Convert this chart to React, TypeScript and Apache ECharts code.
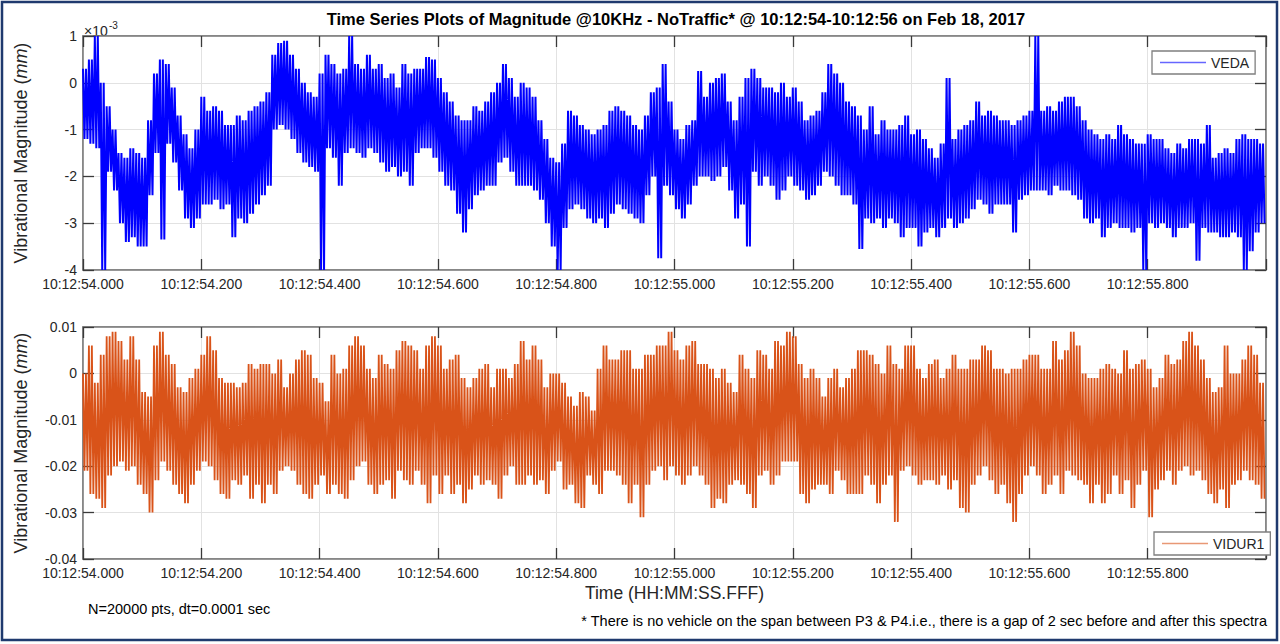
import React, { useEffect, useRef } from 'react';
import * as echarts from 'echarts';

// ---------- data ----------
const TITLE = 'Time Series Plots of Magnitude @10KHz - NoTraffic* @ 10:12:54-10:12:56 on Feb 18, 2017';
const SLOT = 0.01; // seconds covered by one envelope reading (hi / lo extent of the trace)

const xTickLabels = [
  '10:12:54.000', '10:12:54.200', '10:12:54.400', '10:12:54.600', '10:12:54.800',
  '10:12:55.000', '10:12:55.200', '10:12:55.400', '10:12:55.600', '10:12:55.800',
];
const topYTickLabels = ['-4', '-3', '-2', '-1', '0', '1'];
const bottomYTickLabels = ['-0.04', '-0.03', '-0.02', '-0.01', '0', '0.01'];

// VEDA, in units of 1e-3 mm: upper and lower extent of the trace per 0.01 s
const vedaHigh = [
  0.3, 0.5, 1.0, 0.0, -0.5, -1.0, -1.5, -1.6, -1.4, -1.5,
  -1.6, -0.8, 0.2, 0.5, 0.4, -0.1, -0.7, -1.1, -1.4, -1.0,
  -0.3, -0.6, -0.5, -0.6, -0.9, -0.9, -0.7, -0.8, -0.6, -0.5,
  -0.4, -0.2, 0.6, 0.85, 0.9, 0.6, 0.3, 0.0, -0.2, -0.3,
  0.2, 0.6, 0.4, 0.2, 0.3, 1.0, 0.4, 0.3, 0.6, 0.3,
  0.4, 0.1, 0.2, -0.1, 0.4, 0.2, 0.3, 0.3, 0.55, 0.5,
  0.1, -0.2, -0.4, -0.7, -0.8, -0.8, -0.5, -0.6, -0.4, -0.2,
  0.0, 0.4, 0.1, -0.3, 0.0, -0.1, -0.3, -0.8, -1.2, -1.6,
  -1.7, -1.3, -0.6, -0.7, -0.9, -1.0, -1.1, -1.0, -0.9, -0.6,
  -0.5, -0.6, -0.7, -0.9, -1.0, -0.7, -0.2, -0.1, 0.4, -0.4,
  -1.0, -1.2, -0.9, -0.8, 0.25, -0.3, 0.0, 0.1, 0.2, -0.4,
  -0.8, -0.3, 0.1, 0.3, 0.1, -0.1, -0.1, -0.2, 0.0, -0.3,
  -0.1, -0.4, -0.8, -0.7, -0.6, -0.2, 0.4, 0.2, 0.0, -0.4,
  -0.5, -0.7, -1.0, -0.5, -1.1, -0.8, -1.0, -1.0, -0.9, -0.7,
  -1.1, -1.0, -1.2, -1.4, -1.6, -1.3, 0.1, -1.2, -1.0, -0.9,
  -0.8, -0.4, -0.7, -0.6, -0.7, -0.8, -0.8, -0.9, -0.8, -0.7,
  -0.6, 1.0, -0.6, -0.5, -0.6, -0.4, -0.3, -0.3, -0.5, -0.8,
  -1.0, -1.1, -1.2, -1.1, -1.2, -0.9, -1.1, -1.2, -1.3, -1.3,
  -1.1, -1.2, -1.2, -1.4, -1.5, -1.3, -1.4, -1.2, -1.2, -1.3,
  -0.9, -1.6, -1.5, -1.4, -1.5, -1.2, -1.1, -1.2, -1.2, -1.3,
];
const vedaLow = [
  -1.2, -1.3, -1.4, -4.0, -1.9, -2.3, -3.0, -3.4, -3.3, -3.5,
  -3.5, -2.4, -1.5, -3.35, -1.3, -1.7, -2.3, -2.9, -3.1, -2.9,
  -2.6, -2.6, -2.5, -2.7, -2.6, -3.3, -2.9, -3.0, -2.8, -2.6,
  -2.4, -2.2, -1.0, -0.9, -1.0, -1.2, -1.5, -1.7, -1.8, -1.9,
  -4.0, -1.4, -1.6, -2.2, -1.5, -1.4, -1.5, -1.6, -1.4, -1.5,
  -1.7, -1.9, -1.8, -2.0, -1.9, -2.2, -1.5, -1.4, -1.4, -1.6,
  -1.9, -2.2, -2.3, -2.8, -3.2, -2.7, -2.4, -2.3, -2.2, -2.2,
  -1.7, -1.6, -1.9, -2.2, -2.2, -2.2, -2.3, -2.5, -3.0, -3.5,
  -4.0, -3.1, -2.7, -2.6, -2.7, -2.9, -3.0, -2.9, -3.1, -2.8,
  -2.6, -2.7, -2.8, -2.9, -3.0, -2.4, -2.0, -3.75, -2.2, -2.4,
  -2.7, -2.9, -2.6, -2.2, -2.0, -2.0, -2.1, -2.0, -1.8, -2.3,
  -2.9, -2.6, -3.5, -1.9, -2.2, -2.0, -2.2, -2.5, -2.3, -2.0,
  -2.2, -2.3, -2.5, -2.4, -2.2, -1.9, -2.0, -2.2, -2.4, -2.4,
  -2.6, -3.55, -2.9, -3.0, -2.9, -3.1, -2.9, -3.0, -3.3, -3.1,
  -3.1, -3.5, -3.2, -3.1, -3.3, -3.1, -2.9, -3.1, -3.0, -2.9,
  -2.7, -2.5, -2.6, -2.8, -2.6, -2.6, -2.6, -3.2, -2.5, -2.4,
  -2.3, -2.3, -2.3, -2.4, -2.2, -2.3, -2.3, -2.4, -2.5, -2.9,
  -3.0, -2.9, -3.3, -3.1, -3.0, -3.1, -3.1, -3.2, -3.1, -4.0,
  -3.0, -3.1, -3.0, -3.1, -3.3, -3.1, -3.1, -3.0, -3.8, -3.1,
  -3.2, -3.2, -3.3, -3.3, -3.2, -3.3, -4.0, -3.6, -3.2, -3.0,
];

// VIDUR1, in mm: upper and lower extent of the trace per 0.01 s
const vidurHigh = [
  0.000, 0.006, -0.002, 0.004, 0.008, 0.009, 0.007, 0.003, 0.008, 0.003,
  -0.004, -0.005, 0.006, 0.009, 0.004, 0.002, -0.003, -0.004, -0.001, 0.001,
  0.004, 0.008, 0.005, -0.001, -0.002, -0.002, -0.003, -0.002, 0.002, 0.001,
  0.002, 0.002, 0.000, 0.003, -0.003, 0.000, 0.003, 0.005, 0.004, -0.001,
  -0.002, -0.006, 0.004, 0.000, 0.001, 0.006, 0.008, 0.006, 0.001, -0.001,
  0.004, 0.002, 0.001, 0.005, 0.007, 0.006, 0.005, 0.001, 0.006, 0.008,
  0.006, 0.001, 0.003, 0.004, -0.001, -0.003, -0.001, 0.001, 0.002, -0.003,
  0.001, 0.001, -0.001, 0.002, 0.007, 0.003, 0.006, 0.003, -0.003, 0.000,
  0.000, -0.002, -0.005, -0.007, -0.004, -0.005, -0.008, 0.001, 0.006, 0.003,
  0.003, 0.005, 0.005, 0.001, 0.001, 0.004, 0.004, 0.006, 0.006, 0.009,
  0.005, 0.003, 0.006, 0.007, 0.002, 0.002, 0.001, -0.001, 0.001, -0.002,
  -0.004, 0.004, 0.001, -0.001, 0.005, 0.004, 0.001, 0.007, 0.006, 0.009,
  0.008, 0.002, -0.001, 0.001, -0.001, -0.005, -0.001, 0.001, -0.003, -0.001,
  0.001, 0.005, 0.005, 0.004, 0.002, 0.000, 0.006, 0.002, 0.001, 0.006,
  0.006, 0.001, -0.001, 0.002, 0.003, -0.001, 0.001, 0.004, 0.001, 0.001,
  0.003, 0.003, 0.006, 0.005, 0.001, 0.001, 0.000, 0.001, 0.001, 0.003,
  0.004, 0.004, 0.001, 0.001, 0.007, 0.003, 0.005, 0.009, 0.006, 0.000,
  -0.001, -0.001, 0.001, 0.002, 0.001, 0.000, 0.005, 0.001, 0.002, 0.003,
  0.001, -0.003, -0.001, 0.004, 0.002, 0.003, 0.007, 0.009, 0.006, 0.003,
  -0.001, -0.004, -0.003, 0.006, 0.000, 0.000, 0.003, 0.006, 0.004, -0.002,
];
const vidurLow = [
  -0.021, -0.026, -0.027, -0.029, -0.022, -0.020, -0.019, -0.021, -0.020, -0.024,
  -0.026, -0.030, -0.023, -0.019, -0.021, -0.024, -0.026, -0.028, -0.024, -0.021,
  -0.019, -0.020, -0.023, -0.026, -0.027, -0.023, -0.024, -0.022, -0.027, -0.024,
  -0.028, -0.024, -0.026, -0.021, -0.020, -0.021, -0.024, -0.026, -0.027, -0.024,
  -0.022, -0.026, -0.024, -0.026, -0.027, -0.023, -0.020, -0.019, -0.024, -0.026,
  -0.024, -0.023, -0.027, -0.021, -0.023, -0.024, -0.021, -0.024, -0.028, -0.022,
  -0.026, -0.022, -0.026, -0.024, -0.028, -0.025, -0.022, -0.024, -0.023, -0.024,
  -0.027, -0.022, -0.020, -0.024, -0.024, -0.022, -0.024, -0.023, -0.026, -0.021,
  -0.019, -0.025, -0.024, -0.028, -0.029, -0.022, -0.024, -0.026, -0.021, -0.021,
  -0.022, -0.024, -0.028, -0.024, -0.031, -0.024, -0.021, -0.020, -0.023, -0.020,
  -0.022, -0.024, -0.022, -0.020, -0.022, -0.024, -0.029, -0.027, -0.028, -0.024,
  -0.023, -0.024, -0.026, -0.029, -0.022, -0.021, -0.024, -0.022, -0.019, -0.019,
  -0.019, -0.026, -0.028, -0.025, -0.024, -0.024, -0.026, -0.021, -0.023, -0.026,
  -0.026, -0.026, -0.022, -0.024, -0.028, -0.024, -0.022, -0.032, -0.021, -0.020,
  -0.022, -0.024, -0.023, -0.023, -0.024, -0.022, -0.025, -0.023, -0.029, -0.030,
  -0.024, -0.022, -0.020, -0.023, -0.026, -0.024, -0.028, -0.032, -0.026, -0.022,
  -0.020, -0.022, -0.026, -0.024, -0.022, -0.026, -0.021, -0.022, -0.023, -0.024,
  -0.028, -0.024, -0.028, -0.026, -0.022, -0.026, -0.023, -0.029, -0.024, -0.021,
  -0.031, -0.025, -0.023, -0.021, -0.024, -0.021, -0.020, -0.022, -0.021, -0.023,
  -0.026, -0.028, -0.025, -0.029, -0.024, -0.023, -0.021, -0.023, -0.024, -0.027,
];

// ---------- helpers ----------
// Each 0.01 s slot of the dense 10 kHz trace is drawn as two full swings between
// its read upper and lower extents (the way a dense signal fills its envelope).
function traceFrom(high: number[], low: number[]) {
  const pts: [number, number][] = [];
  const q = SLOT / 4;
  for (let i = 0; i < high.length; i++) {
    const t = i * SLOT;
    pts.push([t, high[i]]);
    pts.push([t + q, low[i]]);
    pts.push([t + 2 * q, high[i]]);
    pts.push([t + 3 * q, low[i]]);
  }
  return pts;
}

const FONT = '"Liberation Sans", Arial, Helvetica, sans-serif';
const TXT = '#262626';
const BOX = '#7f7f7f';
const TICK = '#3a3a3a';
const GRID = '#e2e2e2';

function xAxes(gridIndex: number, withName: boolean) {
  const base = {
    gridIndex, type: 'value' as const, min: 0, max: 2, interval: 0.2,
    axisLine: { show: true, onZero: false, lineStyle: { color: BOX, width: 1.5 } },
    axisTick: { show: true, inside: true, length: 11, lineStyle: { color: TICK, width: 1.3 } },
  };
  return [
    {
      ...base,
      position: 'bottom',
      axisLabel: {
        show: true, fontSize: 14, color: TXT, margin: 7, fontFamily: FONT,
        formatter: (v: number) => xTickLabels[Math.round(v / 0.2)] ?? '',
      },
      splitLine: { show: true, lineStyle: { color: GRID, width: 1 } },
      name: withName ? 'Time (HH:MM:SS.FFF)' : '',
      nameLocation: 'middle',
      nameGap: 25,
      nameTextStyle: { fontSize: 17.5, color: TXT, fontFamily: FONT },
    },
    { ...base, position: 'top', axisLabel: { show: false }, splitLine: { show: false } },
  ];
}

function yAxes(gridIndex: number, min: number, max: number, interval: number, labels: string[]) {
  const base = {
    gridIndex, type: 'value' as const, min, max, interval,
    axisLine: { show: true, onZero: false, lineStyle: { color: BOX, width: 1.5 } },
    axisTick: { show: true, inside: true, length: 11, lineStyle: { color: TICK, width: 1.3 } },
  };
  return [
    {
      ...base,
      position: 'left',
      axisLabel: {
        show: true, fontSize: 14, color: TXT, margin: 6, fontFamily: FONT,
        formatter: (v: number) => labels[Math.round((v - min) / interval)] ?? '',
      },
      splitLine: { show: true, lineStyle: { color: GRID, width: 1 } },
      name: 'Vibrational Magnitude ({i|mm})',
      nameLocation: 'middle',
      nameGap: 53,
      nameTextStyle: {
        fontSize: 18, color: TXT, fontFamily: FONT,
        rich: { i: { fontSize: 18, color: TXT, fontStyle: 'italic', fontFamily: FONT } },
      },
    },
    { ...base, position: 'right', axisLabel: { show: false }, splitLine: { show: false } },
  ];
}

function legendFor(name: string, left: number, top: number) {
  return {
    data: [{ name, icon: 'rect' }], left, top, orient: 'vertical',
    backgroundColor: '#fff', borderColor: BOX, borderWidth: 1.3,
    padding: [4, 6, 4, 8], itemWidth: 46, itemHeight: 1.6, itemGap: 0,
    itemStyle: { opacity: 0.6 },
    textStyle: { fontSize: 14, color: TXT, fontFamily: FONT, lineHeight: 15 },
    selectedMode: false,
  };
}

export default function App() {
  const ref = useRef<HTMLDivElement>(null);

  useEffect(() => {
    if (!ref.current) return;
    const chart = echarts.init(ref.current, null, { renderer: 'svg' });

    const option: any = {
      animation: false,
      backgroundColor: '#ffffff',
      textStyle: { fontFamily: FONT },
      grid: [
        { left: 83, top: 36, width: 1183, height: 234, show: true, borderColor: BOX, borderWidth: 1.5, backgroundColor: '#fff' },
        { left: 83, top: 327, width: 1183, height: 232, show: true, borderColor: BOX, borderWidth: 1.5, backgroundColor: '#fff' },
      ],
      xAxis: [...xAxes(0, false), ...xAxes(1, true)],
      yAxis: [
        ...yAxes(0, -4, 1, 1, topYTickLabels),
        ...yAxes(1, -0.04, 0.01, 0.01, bottomYTickLabels),
      ],
      legend: [legendFor('VEDA', 1152, 51), legendFor('VIDUR1', 1154, 532)],
      series: [
        {
          name: 'VEDA', type: 'line', xAxisIndex: 0, yAxisIndex: 0,
          data: traceFrom(vedaHigh, vedaLow),
          symbol: 'none', showSymbol: false, silent: true,
          lineStyle: { color: '#0000ff', width: 2 }, itemStyle: { color: '#0000ff' },
        },
        {
          name: 'VIDUR1', type: 'line', xAxisIndex: 2, yAxisIndex: 2,
          data: traceFrom(vidurHigh, vidurLow),
          symbol: 'none', showSymbol: false, silent: true,
          lineStyle: { color: '#d95319', width: 1.8 }, itemStyle: { color: '#d95319' },
        },
      ],
      graphic: [
        {
          type: 'rect', silent: true, z: 100,
          shape: { x: 2, y: 2, width: 1275, height: 638 },
          style: { fill: 'none', stroke: '#1f3a6e', lineWidth: 2.5 },
        },
        {
          type: 'text', x: 676, y: 19,
          style: {
            text: TITLE, fill: '#000', font: `bold 16.5px ${FONT}`,
            textAlign: 'center', textVerticalAlign: 'middle',
          },
        },
        {
          type: 'text', x: 84, y: 31,
          style: { text: '×10', fill: TXT, font: `14px ${FONT}`, textAlign: 'left', textVerticalAlign: 'middle' },
        },
        {
          type: 'text', x: 109, y: 25,
          style: { text: '-3', fill: TXT, font: `10px ${FONT}`, textAlign: 'left', textVerticalAlign: 'middle' },
        },
        {
          type: 'text', x: 88, y: 609,
          style: { text: 'N=20000 pts, dt=0.0001 sec', fill: '#000', font: `14.5px ${FONT}`, textAlign: 'left', textVerticalAlign: 'middle' },
        },
        {
          type: 'text', x: 1267, y: 621,
          style: {
            text: '* There is no vehicle on the span between P3 & P4.i.e., there is a gap of 2 sec before and after this spectra',
            fill: '#000', font: `14.5px ${FONT}`, textAlign: 'right', textVerticalAlign: 'middle',
          },
        },
      ],
    };

    chart.setOption(option);
    return () => chart.dispose();
  }, []);

  return (
    <div
      ref={ref}
      style={{ position: 'fixed', left: 0, top: 0, width: 1280, height: 644, background: '#fff' }}
    />
  );
}
